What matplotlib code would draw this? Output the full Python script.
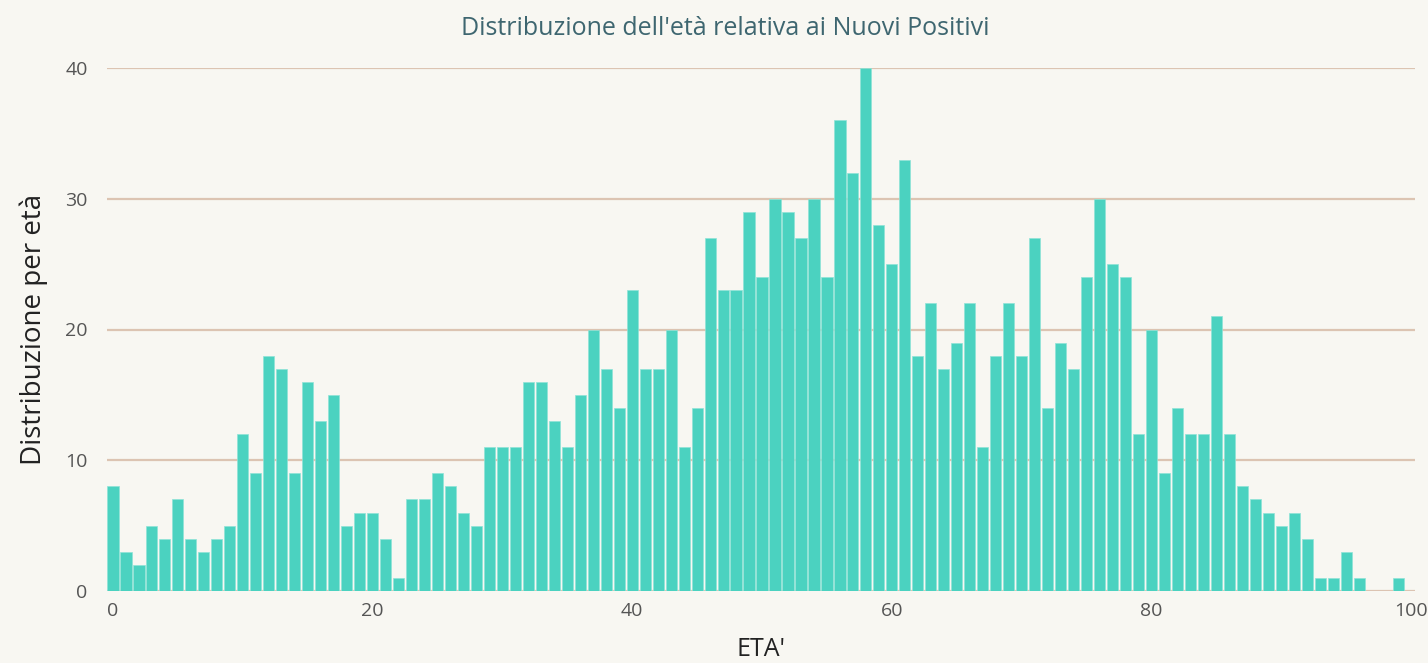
import numpy as np
import matplotlib
matplotlib.use('Agg')
import matplotlib.pyplot as plt

# eta' 0..99 e numero di nuovi positivi per eta'
eta = np.arange(100)
positivi = [8, 3, 2, 5, 4, 7, 4, 3, 4, 5,
            12, 9, 18, 17, 9, 16, 13, 15, 5, 6,
            6, 4, 1, 7, 7, 9, 8, 6, 5, 11,
            11, 11, 16, 16, 13, 11, 15, 20, 17, 14,
            23, 17, 17, 20, 11, 14, 27, 23, 23, 29,
            24, 30, 29, 27, 30, 24, 36, 32, 40, 28,
            25, 33, 18, 22, 17, 19, 22, 11, 18, 22,
            18, 27, 14, 19, 17, 24, 30, 25, 24, 12,
            20, 9, 14, 12, 12, 21, 12, 8, 7, 6,
            5, 6, 4, 1, 1, 3, 1, 0, 0, 1]
yticks = [0, 10, 20, 30, 40]
xticks = [0, 20, 40, 60, 80, 100]

sfondo = '#F8F7F2'
plt.rcParams['font.family'] = ['Open Sans', 'DejaVu Sans']

fig = plt.figure(figsize=(14.28, 6.63), dpi=100, facecolor=sfondo)
ax = fig.add_axes([107/1428, 1-591/663, (1415-107)/1428, (591-68)/663])
ax.set_facecolor(sfondo)

ax.bar(eta, positivi, width=0.86, color='#4BD2C0', edgecolor='#8FE3D7', linewidth=0.5, zorder=2)

ax.set_xlim(-0.46, 100.3)
ax.set_ylim(0, 40)
ax.set_yticks(yticks)
ax.set_xticks(xticks)
ax.grid(axis='y', color='#DCC4B2', linewidth=1.6, zorder=0)
ax.set_axisbelow(True)
for s in ax.spines.values():
    s.set_visible(False)
ax.tick_params(length=0, labelsize=14, labelcolor='#555555')
ax.tick_params(axis='y', pad=14)
ax.tick_params(axis='x', pad=8)

# titolo centrato sulla figura, non sugli assi
ax.set_title("Distribuzione dell'età relativa ai Nuovi Positivi", fontsize=18,
             color='#3E6670', pad=24, x=0.4725)
ax.set_ylabel('Distribuzione per età', fontsize=20, color='#222222', labelpad=12)
ax.set_xlabel("ETA'", fontsize=18, color='#222222', labelpad=12)

plt.savefig('out.png', dpi=100, facecolor=sfondo)
